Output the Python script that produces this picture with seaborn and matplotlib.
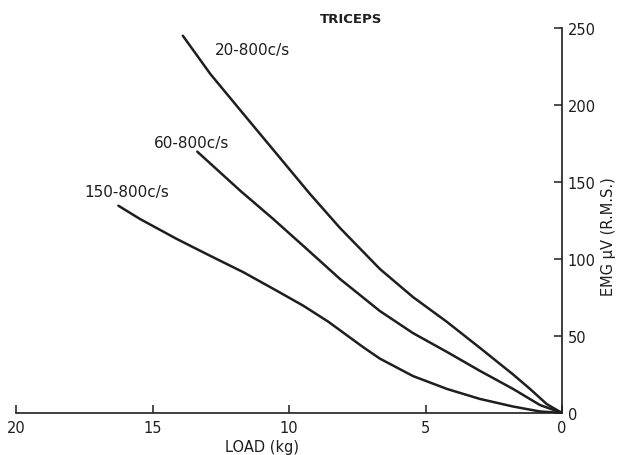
import matplotlib
matplotlib.use("Agg")
import matplotlib.pyplot as plt
import seaborn as sns
import pandas as pd

# Data (load in kg, EMG in µV r.m.s.)
load_20 = [13.89, 12.88, 11.67, 10.45, 9.23, 8.13, 6.67, 5.46, 4.21, 3.00, 1.79, 1.17, 0.56, 0.0]
emg_20 = [245.0, 220.1, 194.2, 168.2, 142.2, 120.1, 93.5, 75.3, 59.1, 42.2, 25.0, 15.6, 5.8, 0.0]

load_60 = [13.36, 11.79, 10.58, 9.35, 8.13, 6.67, 5.46, 4.21, 3.00, 1.79, 0.81, 0.0]
emg_60 = [169.7, 144.4, 126.0, 106.5, 87.0, 66.2, 51.9, 39.6, 27.3, 15.6, 5.2, 0.0]

load_150 = [16.25, 15.46, 14.11, 12.89, 11.67, 10.45, 9.48, 8.57, 7.28, 6.67, 5.46, 4.21, 3.00, 1.79, 0.81, 0.0]
emg_150 = [134.6, 126.0, 113.0, 102.1, 91.4, 79.4, 69.7, 59.4, 42.7, 35.3, 24.0, 15.6, 9.1, 4.2, 1.0, 0.0]

series_labels = ["20-800c/s", "60-800c/s", "150-800c/s"]
x_ticks = [20, 15, 10, 5, 0]
y_ticks = [0, 50, 100, 150, 200, 250]

sns.set_theme(style="white")
plt.rcParams['font.family'] = ['DejaVu Sans']

fig = plt.figure(figsize=(6.23, 4.56), dpi=100)
ax = fig.add_axes([0.0257, 0.0921, 0.8764, 0.8443])

ink = "#1e1e1e"
for xs, ys in [(load_20, emg_20), (load_60, emg_60), (load_150, emg_150)]:
    df = pd.DataFrame({"load": xs, "emg": ys})
    sns.lineplot(data=df, x="load", y="emg", ax=ax, color=ink, lw=1.8, sort=False,
                 solid_joinstyle="round", solid_capstyle="round")

ax.set_xlim(20, 0)
ax.set_ylim(0, 250)
ax.set_xticks(x_ticks)
ax.set_yticks(y_ticks)
ax.set_xticklabels([str(v) for v in x_ticks], fontsize=10.5, color=ink)
ax.set_yticklabels([str(v) for v in y_ticks], fontsize=10.5, color=ink)

for s in ["top", "left"]:
    ax.spines[s].set_visible(False)
for s in ["bottom", "right"]:
    ax.spines[s].set_visible(True)
    ax.spines[s].set_color(ink)
    ax.spines[s].set_linewidth(1.2)

ax.yaxis.tick_right()
ax.tick_params(axis="y", direction="in", length=6, width=1.1, color=ink, pad=4, right=True, left=False)
ax.tick_params(axis="x", direction="in", length=6, width=1.1, color=ink, pad=5, bottom=True)
ax.set_xlabel("")
ax.set_ylabel("")

fig.text(0.42, 0.018, "LOAD (kg)", fontsize=10.5, color=ink, ha="center", va="center")
fig.text(0.976, 0.48, "EMG μV (R.M.S.)", fontsize=10.5, color=ink, ha="center", va="center", rotation=90)
fig.text(0.563, 0.958, "TRICEPS", fontsize=9.5, color=ink, ha="center", va="center", fontweight="bold")

ax.text(0.406, 0.890, series_labels[0], transform=fig.transFigure, fontsize=11, color=ink, ha="center", va="center")
ax.text(0.307, 0.685, series_labels[1], transform=fig.transFigure, fontsize=11, color=ink, ha="center", va="center")
ax.text(0.204, 0.577, series_labels[2], transform=fig.transFigure, fontsize=11, color=ink, ha="center", va="center")

fig.savefig("out.png", dpi=100, facecolor="white")
